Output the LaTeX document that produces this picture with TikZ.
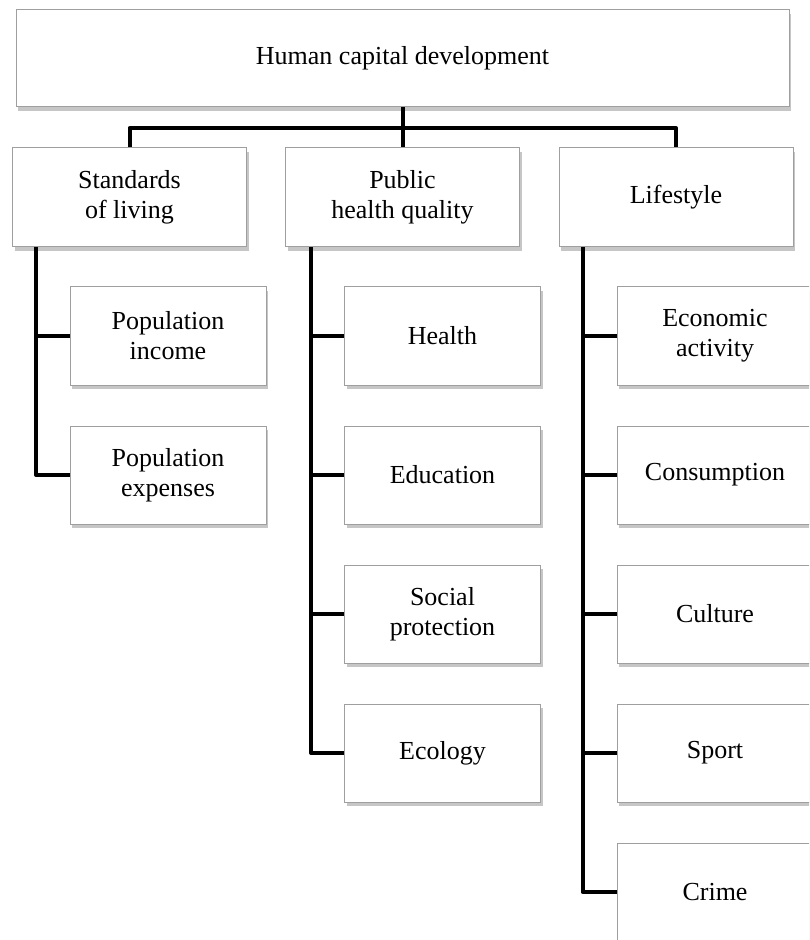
\documentclass[tikz,border=0pt]{standalone}
\usepackage{fontspec}
\setmainfont{Liberation Serif}
\usetikzlibrary{positioning,shadows}

\tikzset{
  box/.style={draw=gray!75, line width=0.5pt, fill=white, align=center, inner sep=0pt,
    font=\fontsize{13}{15}\selectfont,
    drop shadow={shadow xshift=1.2pt, shadow yshift=-1.8pt, opacity=0.45}},
  subbox/.style={box, minimum width=98pt, minimum height=49pt},
  midbox/.style={box, minimum width=117pt, minimum height=49.5pt},
  link/.style={draw=black, line width=2pt, line join=round}
}

\begin{document}
\begin{tikzpicture}[x=0.5pt, y=-0.5pt]
\useasboundingbox (0,0) rectangle (809,940);
\clip (0,0) rectangle (809,940);

% top level
\node[box, minimum width=386.5pt, minimum height=48.5pt] (hcd) at (402.5,58.5) {Human capital development};

% second level
\node[midbox] (std) at (129.5,197.5) {Standards\\of living};
\node[midbox] (pub) at (402.5,197.5) {Public\\health quality};
\node[midbox] (life) at (676,197.5) {Lifestyle};

% standards of living
\node[subbox] (inc) at (168,336) {Population\\income};
\node[subbox, below=20pt of inc] (exp) {Population\\expenses};

% public health quality
\node[subbox] (health) at (442.5,336) {Health};
\node[subbox, below=20pt of health] (edu) {Education};
\node[subbox, below=20pt of edu] (soc) {Social\\protection};
\node[subbox, below=20pt of soc] (eco) {Ecology};

% lifestyle
\node[subbox] (econ) at (715,336) {Economic\\activity};
\node[subbox, below=20pt of econ] (cons) {Consumption};
\node[subbox, below=20pt of cons] (cult) {Culture};
\node[subbox, below=20pt of cult] (sport) {Sport};
\node[subbox, below=20pt of sport] (crime) {Crime};

% connectors
\coordinate (bus) at (402.5,128);
\draw[link] (hcd.south) -- (pub.north);
\draw[link] (std.north) |- (bus) -| (life.north);

\coordinate (sl) at ([xshift=12pt]std.south west);
\draw[link] (sl) |- (exp.west);
\draw[link] (inc.west) -- (inc.west -| sl);

\coordinate (pl) at ([xshift=13pt]pub.south west);
\draw[link] (pl) |- (eco.west);
\draw[link] (health.west) -- (health.west -| pl);
\draw[link] (edu.west) -- (edu.west -| pl);
\draw[link] (soc.west) -- (soc.west -| pl);

\coordinate (ll) at ([xshift=12pt]life.south west);
\draw[link] (ll) |- (crime.west);
\draw[link] (econ.west) -- (econ.west -| ll);
\draw[link] (cons.west) -- (cons.west -| ll);
\draw[link] (cult.west) -- (cult.west -| ll);
\draw[link] (sport.west) -- (sport.west -| ll);
\end{tikzpicture}
\end{document}
